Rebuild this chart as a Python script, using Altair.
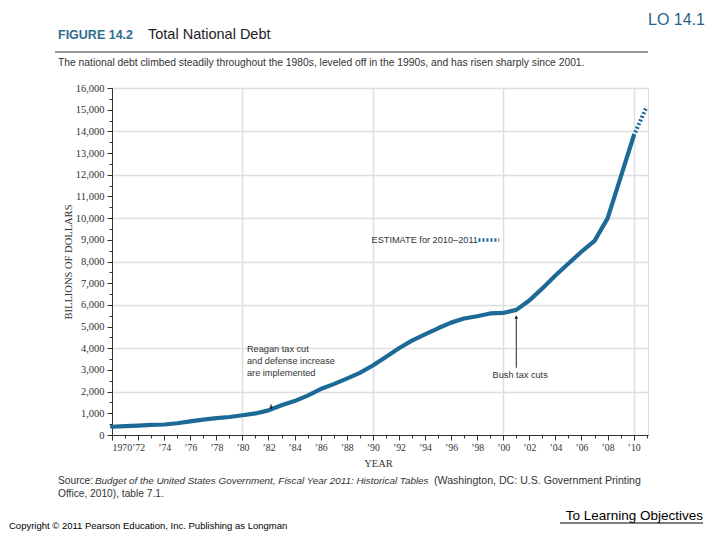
import altair as alt
import pandas as pd

# ---- data (billions of dollars, gross federal debt) ----
years = list(range(1970, 2011))
debt = [380.9, 408.2, 435.9, 466.3, 483.9, 541.9, 629.0, 706.4, 776.6, 829.5,
        909.0, 994.8, 1137.3, 1371.7, 1564.6, 1817.4, 2120.5, 2346.0, 2601.1, 2867.8,
        3206.3, 3598.2, 4001.8, 4351.0, 4643.3, 4920.6, 5181.5, 5369.2, 5478.2, 5605.5,
        5628.7, 5769.9, 6198.4, 6760.0, 7354.7, 7905.3, 8451.4, 8950.7, 9986.1, 11875.9,
        13786.6]
est_years = [2010, 2011]
est_debt = [13786.6, 15144.0]

x_tick_years = list(range(1970, 2011, 2))
x_minor_years = list(range(1970, 2012))
x_grid_years = [1980, 1990, 2000, 2010]
y_ticks = list(range(0, 16001, 1000))
y_minor = list(range(0, 16001, 500))
y_grid = list(range(2000, 16001, 2000))

df = pd.DataFrame({"year": years, "debt": debt})
est = pd.DataFrame({"year": est_years, "debt": est_debt})
key = pd.DataFrame({"year": [1998.1, 1999.7], "debt": [8990, 8990]})

LINE = "#1d6a96"
SANS = "Liberation Sans"
SERIF = "Liberation Serif"

xs = alt.Scale(domain=[1970, 2011.1], nice=False, zero=False)
ys = alt.Scale(domain=[0, 16000], nice=False)

# grid layer (invisible marks, axes carry gridlines)
grid = alt.Chart(df).mark_line(opacity=0).encode(
    x=alt.X("year:Q", scale=xs, axis=alt.Axis(values=x_grid_years, grid=True, labels=False,
                                              ticks=False, domain=False, title="", orient="bottom",
                                              gridColor="#dedede", gridWidth=1.5)),
    y=alt.Y("debt:Q", scale=ys, axis=alt.Axis(values=y_grid, grid=True, labels=False,
                                              ticks=False, domain=False, title="", orient="left",
                                              gridColor="#dedede", gridWidth=1.5)),
)

main = alt.Chart(df).mark_line(color=LINE, strokeWidth=4.2, strokeCap="round",
                               strokeJoin="round").encode(
    x=alt.X("year:Q", scale=xs, axis=alt.Axis(
        values=x_tick_years, format="d", grid=False, orient="bottom", labelOverlap=False,
        labelExpr="datum.value == 1970 ? '1970' : '\u2019' + substring(toString(datum.value), 2)",
        tickSize=5, labelPadding=2, labelFontSize=9.8, labelFont=SERIF, labelColor="#333",
        domainColor="#333", tickColor="#333",
        title="YEAR", titleFont=SERIF, titleFontSize=10.5, titleFontWeight="normal",
        titleColor="#333", titleX=266, titleY=28, titleBaseline="middle")),
    y=alt.Y("debt:Q", scale=ys, axis=alt.Axis(
        values=y_ticks, format=",.0f", grid=False, orient="left", labelOverlap=False,
        tickSize=5, labelPadding=3, labelFontSize=10.5, labelFont=SERIF, labelColor="#333",
        domainColor="#333", tickColor="#333",
        title="BILLIONS OF DOLLARS", titleFont=SERIF, titleFontSize=10.5,
        titleFontWeight="normal", titleColor="#333", titleX=-44, titleY=173.5,
        titleBaseline="middle", titleAngle=270)),
)

estimate = alt.Chart(est).mark_line(color=LINE, strokeWidth=4, strokeDash=[2, 2]).encode(
    x=alt.X("year:Q", scale=xs, axis=alt.Axis(values=x_minor_years, labels=False, grid=False,
                                              domain=False, tickSize=3, tickColor="#333",
                                              title="", orient="bottom")),
    y=alt.Y("debt:Q", scale=ys, axis=alt.Axis(values=y_minor, labels=False, grid=False,
                                              domain=False, tickSize=3, tickColor="#333",
                                              title="", orient="left")),
)

keyline = alt.Chart(key).mark_line(color=LINE, strokeWidth=3.5, strokeDash=[2, 2]).encode(
    x=alt.X("year:Q", scale=xs, axis=None), y=alt.Y("debt:Q", scale=ys, axis=None))

ann = pd.DataFrame({
    "year": [1980.35, 1980.35, 1980.35, 1989.9],
    "debt": [3965, 3412, 2858, 8990],
    "t": ["Reagan tax cut", "and defense increase", "are implemented", "ESTIMATE for 2010\u20132011"],
})
ann_text = alt.Chart(ann).mark_text(align="left", baseline="middle", font=SANS, fontSize=9.2,
                                    color="#333").encode(
    x=alt.X("year:Q", scale=xs, axis=None), y=alt.Y("debt:Q", scale=ys, axis=None), text="t:N")

bush = pd.DataFrame({"year": [2001.3], "debt": [2766], "t": ["Bush tax cuts"]})
bush_text = alt.Chart(bush).mark_text(align="center", baseline="middle", font=SANS,
                                      fontSize=9.2, color="#333").encode(
    x=alt.X("year:Q", scale=xs, axis=None), y=alt.Y("debt:Q", scale=ys, axis=None), text="t:N")

arrows = pd.DataFrame({"year": [2001.0, 1982.2], "y1": [3100, 1240], "y2": [5480, 1420]})
arrow_lines = alt.Chart(arrows).mark_rule(color="#222", strokeWidth=1).encode(
    x=alt.X("year:Q", scale=xs, axis=None), y=alt.Y("y1:Q", scale=ys, axis=None), y2="y2:Q")
heads = pd.DataFrame({"year": [2001.0, 1982.2], "debt": [5430, 1240],
                      "s": ["triangle-up", "triangle-down"]})
arrow_heads = alt.Chart(heads).mark_point(filled=True, color="#222", size=14, opacity=1).encode(
    x=alt.X("year:Q", scale=xs, axis=None), y=alt.Y("debt:Q", scale=ys, axis=None),
    shape=alt.Shape("s:N", scale=None))


def label(text, x, y, size, color="#222", font="Liberation Sans", weight="normal",
          style="normal", align="left", baseline="middle"):
    return alt.Chart(pd.DataFrame({"t": [text]})).mark_text(
        align=align, baseline=baseline, font=font, fontSize=size, color=color,
        fontWeight=weight, fontStyle=style).encode(
        x=alt.value(x), y=alt.value(y), text="t:N")


texts = [
    label("LO 14.1", 593, -68, 16, color="#2b5f8c", align="right"),
    label("FIGURE 14.2", -54, -53, 12.5, color="#2f6d8f", weight="bold"),
    label("Total National Debt", 36, -53, 14.5, color="#222"),
    label("The national debt climbed steadily throughout the 1980s, leveled off in the 1990s, "
          "and has risen sharply since 2001.", -54, -25, 10.3, color="#333", font=SANS),
    label("Source:", -54, 393, 10.2, color="#333"),
    label("Budget of the United States Government, Fiscal Year 2011: Historical Tables",
          -17, 393, 9.9, color="#333", style="italic"),
    label("(Washington, DC: U.S. Government Printing", 322, 393, 10.6, color="#333"),
    label("Office, 2010), table 7.1.", -54, 406, 10.2, color="#333"),
    label("To Learning Objectives", 591, 428, 13.5, color="#000", align="right"),
    label("Copyright \u00a9 2011 Pearson Education, Inc. Publishing as Longman", -103, 438,
          9.5, color="#000"),
]

rule_df = pd.DataFrame({"a": [0]})
title_rule = alt.Chart(rule_df).mark_rule(color="#9a9a9a", strokeWidth=2).encode(
    x=alt.value(-57), x2=alt.value(536), y=alt.value(-36))
under_rule = alt.Chart(rule_df).mark_rule(color="#000", strokeWidth=1).encode(
    x=alt.value(448), x2=alt.value(591), y=alt.value(435))

chart = alt.layer(
    grid, main, estimate, keyline, ann_text, bush_text, arrow_lines, arrow_heads,
    title_rule, under_rule, *texts
).resolve_axis(x="independent", y="independent").properties(
    width=536, height=347,
    autosize=alt.AutoSizeParams(type="none"),
    padding={"left": 104, "top": 80, "right": 64, "bottom": 97},
).configure_view(stroke=None).configure(background="white")

chart.save("out.html", embed_options={"renderer": "svg", "actions": False})
